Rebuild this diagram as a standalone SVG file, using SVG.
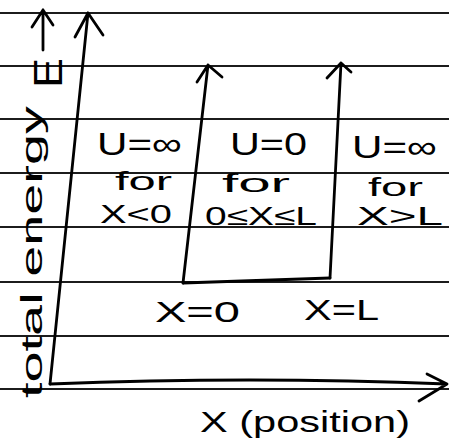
<svg xmlns="http://www.w3.org/2000/svg" width="449" height="442" viewBox="0 0 449 442">
  <style>
    .rule { stroke: #1c1c1c; stroke-width: 2.2; }
    .ink { fill: none; stroke: #000; stroke-width: 2.8; stroke-linecap: round; stroke-linejoin: round; }
    .hw { font-family: "Liberation Sans", "DejaVu Sans", sans-serif; fill: #000; }
  </style>
  <rect width="449" height="442" fill="#fff"/>
  <g id="paper-lines">
    <line class="rule" x1="0" y1="13" x2="449" y2="13"/>
    <line class="rule" x1="0" y1="66" x2="449" y2="66"/>
    <line class="rule" x1="0" y1="119" x2="449" y2="119"/>
    <line class="rule" x1="0" y1="173" x2="449" y2="173"/>
    <line class="rule" x1="0" y1="227" x2="449" y2="227"/>
    <line class="rule" x1="0" y1="282" x2="449" y2="282"/>
    <line class="rule" x1="0" y1="336" x2="449" y2="336"/>
    <line class="rule" x1="0" y1="389" x2="449" y2="389"/>
  </g>
  <g id="connectors">
    <path class="ink" d="M50 384 L88 13 M75 37 L88 13 L103 35"/>
    <path class="ink" d="M50 384 Q250 376 447 384 M427 374 L447 384 L419 401"/>
    <path class="ink" d="M43 50 L43 10 M32 27 L43 10 L53 25"/>
    <path class="ink" d="M183 283 L208 65 M197 82 L208 65 L222 77"/>
    <path class="ink" d="M330 278 L341 63 M327 78 L341 63 L351 72"/>
    <path class="ink" d="M183 283 L330 278"/>
  </g>
  <g id="y-label">
    <text class="hw" transform="translate(42,398) rotate(-90)" font-size="30" textLength="292" lengthAdjust="spacingAndGlyphs">total energy</text>
    <text class="hw" transform="translate(62,88) rotate(-90)" font-size="40" textLength="30" lengthAdjust="spacingAndGlyphs">E</text>
  </g>
  <g id="region-left">
    <text class="hw" x="97" y="155" font-size="32" textLength="85" lengthAdjust="spacingAndGlyphs">U=∞</text>
    <text class="hw" x="115" y="190" font-size="26" textLength="57" lengthAdjust="spacingAndGlyphs">for</text>
    <text class="hw" x="100" y="223" font-size="26" textLength="72" lengthAdjust="spacingAndGlyphs">X&lt;0</text>
  </g>
  <g id="region-middle">
    <text class="hw" x="230" y="155" font-size="32" textLength="77" lengthAdjust="spacingAndGlyphs">U=0</text>
    <text class="hw" x="222" y="192" font-size="26" textLength="68" lengthAdjust="spacingAndGlyphs">for</text>
    <text class="hw" x="205" y="225" font-size="26" textLength="112" lengthAdjust="spacingAndGlyphs">0≤X≤L</text>
  </g>
  <g id="region-right">
    <text class="hw" x="352" y="158" font-size="32" textLength="85" lengthAdjust="spacingAndGlyphs">U=∞</text>
    <text class="hw" x="368" y="196" font-size="26" textLength="55" lengthAdjust="spacingAndGlyphs">for</text>
    <text class="hw" x="357" y="225" font-size="26" textLength="86" lengthAdjust="spacingAndGlyphs">X&gt;L</text>
  </g>
  <g id="label-x0">
    <text class="hw" x="155" y="322" font-size="30" textLength="85" lengthAdjust="spacingAndGlyphs">X=0</text>
  </g>
  <g id="label-xL">
    <text class="hw" x="304" y="320" font-size="30" textLength="75" lengthAdjust="spacingAndGlyphs">X=L</text>
  </g>
  <g id="x-label">
    <text class="hw" x="200" y="432" font-size="30" textLength="210" lengthAdjust="spacingAndGlyphs">X (position)</text>
  </g>
</svg>
